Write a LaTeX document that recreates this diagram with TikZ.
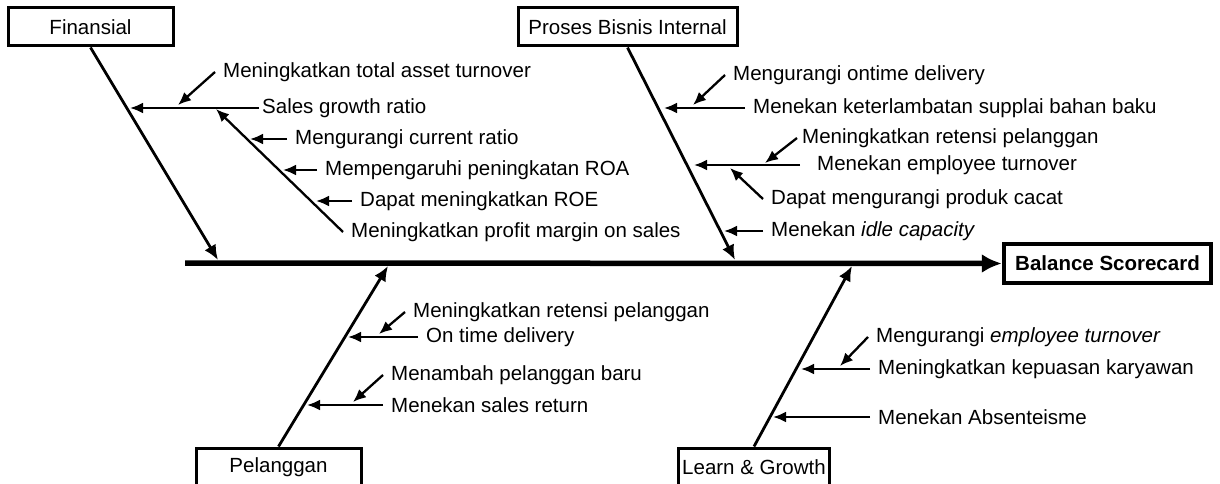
\documentclass[tikz,border=0pt]{standalone}
\usepackage{fontspec}
\setmainfont{Liberation Sans}
\usetikzlibrary{arrows.meta}

\begin{document}
\begin{tikzpicture}[x=1pt,y=-1pt,>={Latex[length=13pt,width=11pt]},font=\fontsize{20.5}{24}\selectfont]
  \tikzstyle{perspective}=[draw,line width=3pt,minimum height=38pt,inner sep=0pt]
  \tikzstyle{cause}=[anchor=west,inner xsep=8pt,inner ysep=0pt]
  \tikzstyle{bone}=[->,line width=2.8pt,>={Latex[length=15pt,width=13pt]}]
  \tikzstyle{sub}=[->,line width=2.3pt]

  \useasboundingbox (0,0) rectangle (1220,484);

  \node[perspective,minimum width=165pt] (F) at (90.5,27)  {Finansial};
  \node[perspective,minimum width=219pt] (P) at (627.5,27) {Proses Bisnis Internal};
  \node[perspective,minimum width=165pt] (C) at (278.5,467) {Pelanggan};
  \node[perspective,minimum width=151pt] (L) at (754,467)  {Learn \& Growth};
  \node[perspective,line width=4.5pt,minimum width=207pt,minimum height=39pt,font=\fontsize{20.5}{24}\selectfont\bfseries] (B) at (1107.5,263.5) {Balance Scorecard};

  \coordinate (S)  at (185,263);
  \coordinate (Fe) at (218,260);
  \coordinate (Pe) at (735,260);
  \coordinate (Ce) at (388,266);
  \coordinate (Le) at (852,266);

  \draw[line width=5.5pt,-{Latex[length=20pt,width=19pt]}] (S) -- (B.west);
  \draw[bone] (F.south) -- (Fe);
  \draw[bone] (P.south) -- (Pe);
  \draw[bone] (C.north) -- (Ce);
  \draw[bone] (L.north) -- (Le);

  \node[cause]              (f1) at (215,72)  {Meningkatkan total asset turnover};
  \node[cause,inner xsep=3pt] (f2) at (259,108) {Sales growth ratio};
  \node[cause]              (f3) at (287,139) {Mengurangi current ratio};
  \node[cause]              (f4) at (317,170) {Mempengaruhi peningkatan ROA};
  \node[cause]              (f5) at (352,201) {Dapat meningkatkan ROE};
  \node[cause]              (f6) at (343,232) {Meningkatkan profit margin on sales};

  \node[cause]              (p1) at (725,75)  {Mengurangi ontime delivery};
  \node[cause]              (p2) at (745,108) {Menekan keterlambatan supplai bahan baku};
  \node[cause,inner xsep=5pt] (p3) at (797,138) {Meningkatkan retensi pelanggan};
  \node[cause,inner xsep=17pt] (p4) at (800,165) {Menekan employee turnover};
  \node[cause]              (p5) at (763,199) {Dapat mengurangi produk cacat};
  \node[cause]              (p6) at (763,231) {Menekan \textit{idle capacity}};

  \node[cause]              (c1) at (405,312) {Meningkatkan retensi pelanggan};
  \node[cause]              (c2) at (418,337) {On time delivery};
  \node[cause]              (c3) at (383,375) {Menambah pelanggan baru};
  \node[cause]              (c4) at (383,405) {Menekan sales return};

  \node[cause]              (l1) at (868,337) {Mengurangi \textit{employee turnover}};
  \node[cause]              (l2) at (870,369) {Meningkatkan kepuasan karyawan};
  \node[cause]              (l3) at (870,417) {Menekan Absenteisme};

  \coordinate (fa) at (130,108);
  \coordinate (fb) at (178,105);
  \coordinate (fc) at (216,109);
  \coordinate (fd) at (250,139);
  \coordinate (fe) at (283,170);
  \coordinate (ff) at (316,201);
  \coordinate (pa) at (693,105);
  \coordinate (pb) at (664,108);
  \coordinate (pc) at (765,163);
  \coordinate (pd) at (694,165);
  \coordinate (pe) at (730,168);
  \coordinate (pf) at (724,231);
  \coordinate (ca) at (379,334);
  \coordinate (cb) at (348,337);
  \coordinate (cc) at (353,402);
  \coordinate (cd) at (307,405);
  \coordinate (la) at (840,366);
  \coordinate (lb) at (801,369);
  \coordinate (lc) at (773,417);

  \path[sub]
        (f2.west) edge (fa)
        (f1.west) edge (fb)
        (f6.west) edge (fc)
        (f3.west) edge (fd)
        (f4.west) edge (fe)
        (f5.west) edge (ff)
        (p1.west) edge (pa)
        (p2.west) edge (pb)
        (p3.west) edge (pc)
        (p4.west) edge (pd)
        (p5.west) edge (pe)
        (p6.west) edge (pf)
        (c1.west) edge (ca)
        (c2.west) edge (cb)
        (c3.west) edge (cc)
        (c4.west) edge (cd)
        (l1.west) edge (la)
        (l2.west) edge (lb)
        (l3.west) edge (lc);
\end{tikzpicture}
\end{document}
